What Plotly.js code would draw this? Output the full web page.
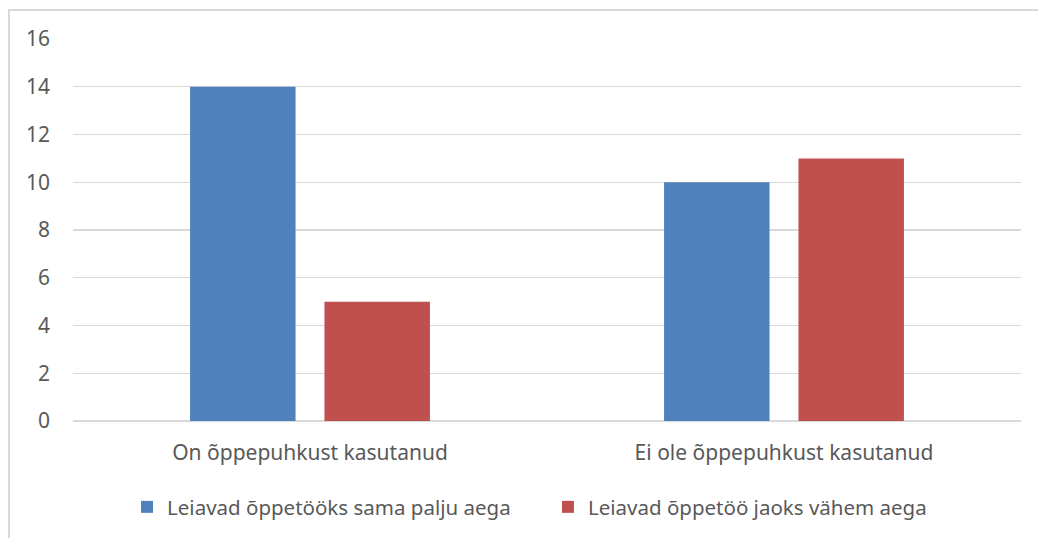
<!DOCTYPE html>
<html>
<head>
<meta charset="utf-8">
<script src="https://cdn.plot.ly/plotly-3.0.1.min.js"></script>
<style>
html,body{margin:0;padding:0;background:#fff;}
#frame{position:absolute;left:8px;top:9px;width:1030px;height:529px;border-left:2px solid #d9d9d9;border-top:2px solid #d9d9d9;box-sizing:border-box;}
#chart{position:absolute;left:0;top:0;width:1038px;height:538px;}
</style>
</head>
<body>
<div id="frame"></div>
<div id="chart"></div>
<script>
const categories = ["On õppepuhkust kasutanud", "Ei ole õppepuhkust kasutanud"];
const seriesNames = ["Leiavad õppetööks sama palju aega", "Leiavad õppetöö jaoks vähem aega"];
const samaPalju = [14, 10];
const vahem = [5, 11];
const yTicks = [0, 2, 4, 6, 8, 10, 12, 14, 16];

const font = {family: "Noto Sans, Liberation Sans, sans-serif", size: 21, color: "#595959"};
const legendFont = {family: "Noto Sans, Liberation Sans, sans-serif", size: 20.5, color: "#595959"};

const traces = [
  {type: "bar", x: categories, y: samaPalju, name: seriesNames[0], marker: {color: "#4f81bd"}, hoverinfo: "none", legend: "legend"},
  {type: "bar", x: categories, y: vahem, name: seriesNames[1], marker: {color: "#c0504d"}, hoverinfo: "none", legend: "legend2"}
];

const legendBase = {orientation: "h", xanchor: "left", y: -0.222, yanchor: "middle", font: legendFont, itemwidth: 30, tracegroupgap: 0, bgcolor: "rgba(0,0,0,0)"};

const layout = {
  width: 1038, height: 538,
  margin: {l: 73, r: 17, t: 39, b: 116},
  paper_bgcolor: "rgba(0,0,0,0)",
  plot_bgcolor: "rgba(0,0,0,0)",
  font: font,
  barmode: "group",
  bargap: 0.433,
  bargroupgap: 0.215,
  showlegend: true,
  legend: Object.assign({}, legendBase, {x: 0.057}),
  legend2: Object.assign({}, legendBase, {x: 0.501}),
  xaxis: {showgrid: false, zeroline: false, showline: false, ticks: "", ticklabelstandoff: 17, tickfont: font, fixedrange: true},
  yaxis: {range: [0, 16], tickvals: yTicks, ticktext: yTicks.map(String), showgrid: true, gridcolor: "#d9d9d9", gridwidth: 1.3,
          zeroline: true, zerolinecolor: "#d9d9d9", zerolinewidth: 1.3, showline: false, ticks: "", ticklabelstandoff: 22, tickfont: font, fixedrange: true}
};

Plotly.newPlot("chart", traces, layout, {displayModeBar: false, staticPlot: true});
</script>
</body>
</html>
